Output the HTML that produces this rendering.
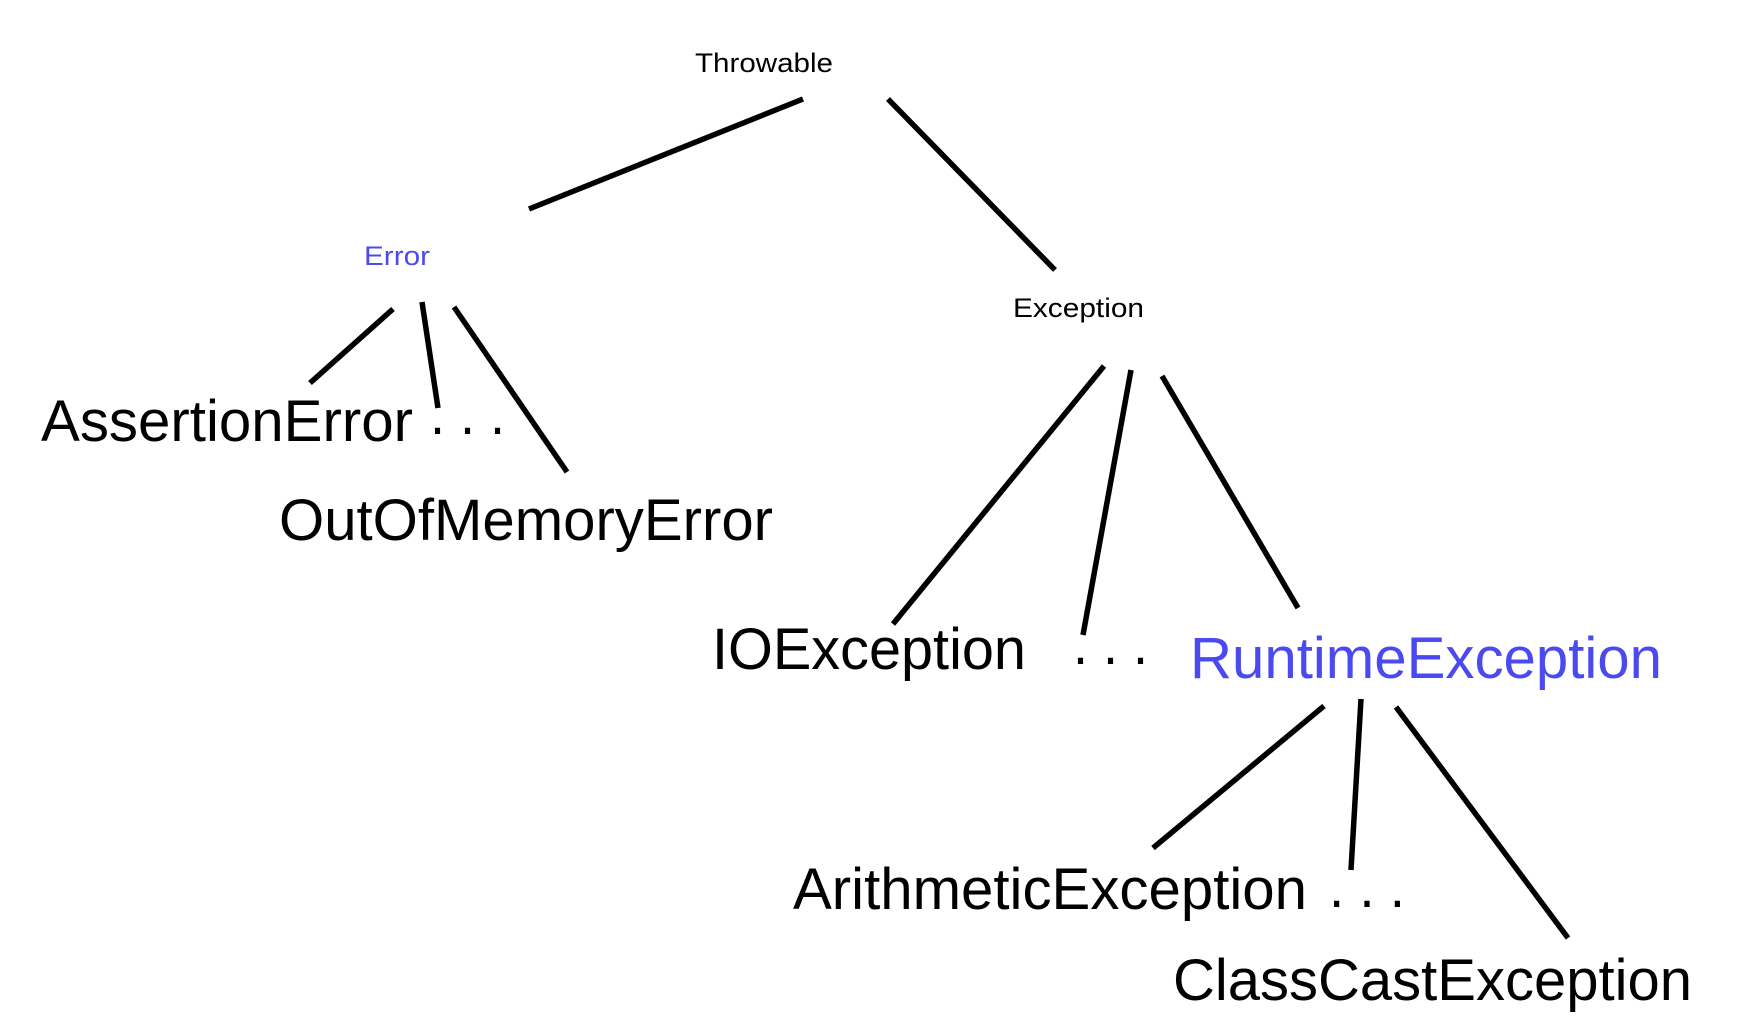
<!DOCTYPE html>
<html><head><meta charset="utf-8"><style>html,body{margin:0;padding:0;background:#fff;}svg{display:block}</style></head>
<body>
<svg width="1744" height="1034" viewBox="0 0 1744 1034" xmlns="http://www.w3.org/2000/svg" font-family="Liberation Sans, Arial, sans-serif">
<g transform="translate(-4,-2)">
<g stroke="#000" stroke-width="5.5" fill="none">
<line x1="807" y1="101" x2="533" y2="211"/>
<line x1="892" y1="101" x2="1059" y2="272"/>
<line x1="397" y1="311" x2="314" y2="385"/>
<line x1="426" y1="304" x2="442" y2="410"/>
<line x1="458" y1="309" x2="571" y2="474"/>
<line x1="1108" y1="368" x2="897" y2="626"/>
<line x1="1135" y1="372" x2="1087" y2="637"/>
<line x1="1166" y1="378" x2="1302" y2="610"/>
<line x1="1328" y1="708" x2="1157" y2="850"/>
<line x1="1365" y1="701" x2="1355" y2="872"/>
<line x1="1400" y1="709" x2="1572" y2="940"/>
</g>
<g font-size="27" fill="#000">
<text x="699" y="74" textLength="138" lengthAdjust="spacingAndGlyphs">Throwable</text>
<text x="368" y="267" textLength="66" lengthAdjust="spacingAndGlyphs" fill="#4a4af0">Error</text>
<text x="1017" y="319" textLength="131" lengthAdjust="spacingAndGlyphs">Exception</text>
</g>
<g font-size="58" fill="#000">
<text x="45" y="443" textLength="372" lengthAdjust="spacingAndGlyphs">AssertionError</text>
<text x="434" y="436" textLength="75" lengthAdjust="spacingAndGlyphs">. . .</text>
<text x="283" y="542" textLength="494" lengthAdjust="spacingAndGlyphs">OutOfMemoryError</text>
<text x="716" y="671" textLength="314" lengthAdjust="spacingAndGlyphs">IOException</text>
<text x="1077" y="666" textLength="75" lengthAdjust="spacingAndGlyphs">. . .</text>
<text x="1194" y="680" textLength="472" lengthAdjust="spacingAndGlyphs" fill="#4a4af0">RuntimeException</text>
<text x="797" y="911" textLength="514" lengthAdjust="spacingAndGlyphs">ArithmeticException</text>
<text x="1333" y="909" textLength="76" lengthAdjust="spacingAndGlyphs">. . .</text>
<text x="1177" y="1002" textLength="519" lengthAdjust="spacingAndGlyphs">ClassCastException</text>
</g>
</g>
</svg>
</body></html>
